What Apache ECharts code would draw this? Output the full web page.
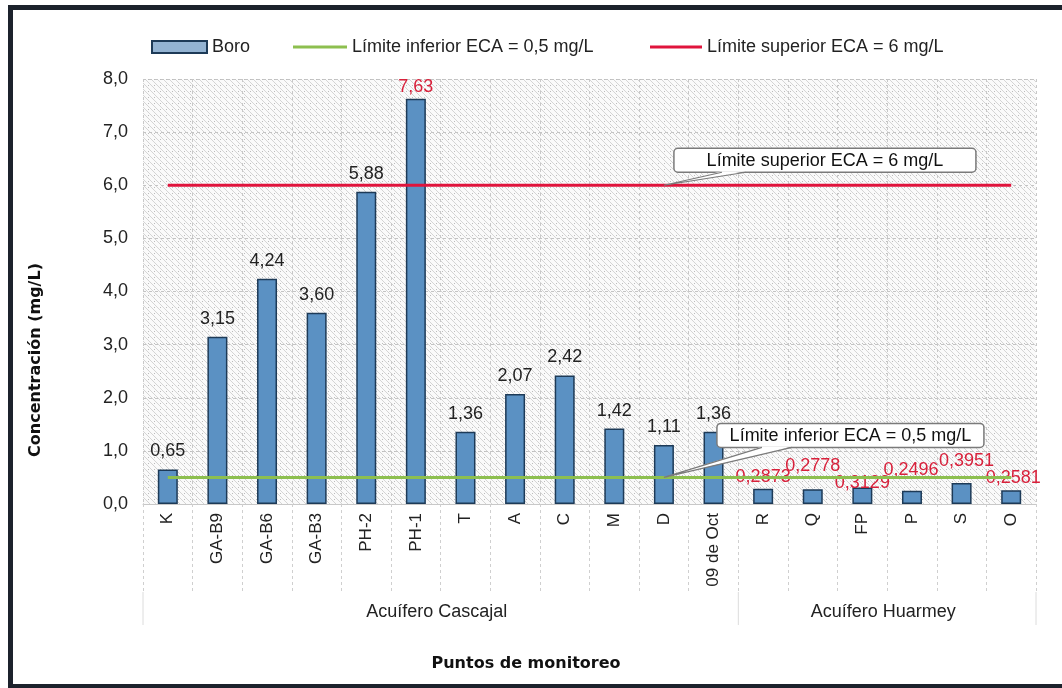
<!DOCTYPE html>
<html>
<head>
<meta charset="utf-8">
<title>Boro</title>
<script src="https://cdn.jsdelivr.net/npm/echarts@6/dist/echarts.min.js"></script>
<style>
html, body { margin: 0; padding: 0; background: #fff; }
#chart { width: 1062px; height: 688px; }
</style>
</head>
<body>
<div id="chart"></div>
<script>
// datos
var puntos = ['K', 'GA-B9', 'GA-B6', 'GA-B3', 'PH-2', 'PH-1', 'T', 'A', 'C', 'M', 'D', '09 de Oct', 'R', 'Q', 'FP', 'P', 'S', 'O'];
var boro = [0.65, 3.15, 4.24, 3.60, 5.88, 7.63, 1.36, 2.07, 2.42, 1.42, 1.11, 1.36, 0.2873, 0.2778, 0.3129, 0.2496, 0.3951, 0.2581];
var limiteInferior = 0.5;
var limiteSuperior = 6;
var acuiferos = ['Acuífero Cascajal', 'Acuífero Huarmey'];
var acuiferoDesde = [0, 12]; // primer punto de cada acuifero
var yTicks = [0, 1, 2, 3, 4, 5, 6, 7, 8];

var nombreBoro = 'Boro';
var nombreInf = 'Límite inferior ECA = 0,5 mg/L';
var nombreSup = 'Límite superior ECA = 6 mg/L';

var fuente = '"Liberation Sans", Arial, sans-serif';
var negrita = '"DejaVu Sans", sans-serif';
var rojo = '#d8213b';

// fondo rayado del area de trazado
function rayado() {
  var c = document.createElement('canvas');
  c.width = 6; c.height = 6;
  var g = c.getContext('2d');
  g.fillStyle = '#fafafa';
  g.fillRect(0, 0, 6, 6);
  g.strokeStyle = '#d4d4d4';
  g.lineWidth = 1;
  g.beginPath(); g.moveTo(0, 0); g.lineTo(6, 6); g.stroke();
  g.beginPath(); g.moveTo(-1, 5); g.lineTo(1, 7); g.stroke();
  g.beginPath(); g.moveTo(5, -1); g.lineTo(7, 1); g.stroke();
  g.fillStyle = '#bcbcbc';
  g.fillRect(4, 1, 1, 1);
  return c;
}

// desplazamiento de etiquetas rojas (solo estilo)
var desfase = { 13: [0, -11], 14: [0, 8], 15: [-1, -9], 16: [5, -10], 17: [2, 0] };

var datosBoro = boro.map(function (v, i) {
  var item = { value: v };
  if (i >= acuiferoDesde[1] || v > 7) {
    item.label = { color: rojo, distance: 3, offset: desfase[i] || [0, 0] };
  }
  return item;
});

var chart = echarts.init(document.getElementById('chart'));

var textoLeyenda = { fontSize: 18, color: '#222', fontFamily: fuente };

var option = {
  backgroundColor: '#fff',
  animation: false,
  textStyle: { fontFamily: fuente },
  grid: {
    left: 143, right: 26, top: 79, bottom: 184,
    show: true,
    borderWidth: 0,
    backgroundColor: { image: rayado(), repeat: 'repeat' }
  },
  legend: [
    { data: [{ name: nombreBoro, icon: 'rect',
        itemStyle: { color: '#93b3d2', borderColor: '#1d3a57', borderWidth: 2 } }],
      left: 146, top: 33, itemWidth: 55, itemHeight: 12, itemGap: 5, textStyle: textoLeyenda },
    { data: [{ name: nombreInf, icon: 'rect' }],
      left: 288, top: 33, itemWidth: 54, itemHeight: 3, textStyle: textoLeyenda },
    { data: [{ name: nombreSup, icon: 'rect' }],
      left: 645, top: 33, itemWidth: 52, itemHeight: 3, textStyle: textoLeyenda }
  ],
  xAxis: {
    type: 'category',
    data: puntos,
    axisLine: { show: true, lineStyle: { color: '#c8c8c8' } },
    axisTick: { show: true, interval: 0, length: 88, lineStyle: { color: '#cfcfcf', type: [3, 3] } },
    splitLine: { show: true, interval: 0, lineStyle: { color: '#c8c8c8', type: [3, 3] } },
    axisLabel: { interval: 0, rotate: 90, margin: 9, fontSize: 17, color: '#222', fontFamily: fuente }
  },
  yAxis: {
    type: 'value',
    min: yTicks[0],
    max: yTicks[yTicks.length - 1],
    interval: 1,
    axisLine: { show: false },
    axisTick: { show: false },
    splitLine: { show: true, lineStyle: { color: '#c4c4c4', type: [3, 3] } },
    axisLabel: {
      margin: 15, fontSize: 18, color: '#222', fontFamily: fuente,
      formatter: function (v) { return v.toFixed(1).replace('.', ','); }
    }
  },
  series: [
    {
      name: nombreBoro,
      type: 'bar',
      barWidth: 20,
      data: datosBoro,
      itemStyle: { color: '#5b91c3', borderColor: '#1d3a57', borderWidth: 1.5 },
      label: {
        show: true, position: 'top', distance: 9,
        fontSize: 18, color: '#222', fontFamily: fuente,
        formatter: function (p) {
          var d = p.dataIndex >= acuiferoDesde[1] ? 4 : 2;
          return p.value.toFixed(d).replace('.', ',');
        }
      }
    },
    {
      name: nombreInf,
      type: 'line',
      symbol: 'none',
      data: [[puntos[0], limiteInferior], [puntos[puntos.length - 1], limiteInferior]],
      itemStyle: { color: '#8dbf4f' },
      lineStyle: { color: '#8dbf4f', width: 3 }
    },
    {
      name: nombreSup,
      type: 'line',
      symbol: 'none',
      data: [[puntos[0], limiteSuperior], [puntos[puntos.length - 1], limiteSuperior]],
      itemStyle: { color: '#e0143c' },
      lineStyle: { color: '#e0143c', width: 3 }
    }
  ]
};

chart.setOption(option);

// anotaciones, ejes y marco
function px(cat, v) { return chart.convertToPixel({ gridIndex: 0 }, [cat, v]); }

function globo(texto, ancla, dx, dy, w, h, t1, t2) {
  var x0 = ancla[0] + dx, y0 = ancla[1] + dy;
  return [
    { type: 'rect', shape: { x: x0, y: y0, width: w, height: h, r: 4 },
      style: { fill: '#fff', stroke: '#7a7a7a', lineWidth: 1.5 }, z: 20 },
    { type: 'polygon', shape: { points: [ancla, [x0 + t1, y0 + h - 1], [x0 + t2, y0 + h - 1]] },
      style: { fill: '#fff' }, z: 21 },
    { type: 'polyline', shape: { points: [[x0 + t1, y0 + h], ancla, [x0 + t2, y0 + h]] },
      style: { stroke: '#7a7a7a', lineWidth: 1.2, fill: null }, z: 21 },
    { type: 'text', x: x0 + w / 2, y: y0 + h / 2 + 1, z: 22,
      style: { text: texto, fontSize: 18, fontFamily: fuente, fill: '#111', align: 'center', verticalAlign: 'middle' } }
  ];
}

var elementos = [];
var aSup = px('D', limiteSuperior);
var aInf = px('D', limiteInferior);
elementos = elementos.concat(globo(nombreSup, aSup, 10, -37, 302, 24, 48, 72));
elementos = elementos.concat(globo(nombreInf, aInf, 53, -54, 267, 24, 45, 75));

// limites de los acuiferos debajo de las etiquetas
var paso = px(puntos[1], 0)[0] - px(puntos[0], 0)[0];
var bordes = acuiferoDesde.concat([puntos.length]).map(function (i) {
  return px(puntos[0], 0)[0] - paso / 2 + i * paso;
});
bordes.forEach(function (x) {
  elementos.push({ type: 'line', shape: { x1: x, y1: 592, x2: x, y2: 625 },
    style: { stroke: '#dcdcdc', lineWidth: 1 } });
});
acuiferos.forEach(function (nombre, i) {
  elementos.push({ type: 'text', x: (bordes[i] + bordes[i + 1]) / 2 - 4, y: 612,
    style: { text: nombre, fontSize: 18, fontFamily: fuente, fill: '#222', align: 'center', verticalAlign: 'middle' } });
});

elementos.push({ type: 'text', x: 526, y: 664,
  style: { text: 'Puntos de monitoreo', fontSize: 16, fontWeight: 'bold', fontFamily: negrita,
    fill: '#111', align: 'center', verticalAlign: 'middle' } });
elementos.push({ type: 'text', x: 36, y: 360, rotation: Math.PI / 2,
  style: { text: 'Concentración (mg/L)', fontSize: 16, fontWeight: 'bold', fontFamily: negrita,
    fill: '#111', align: 'center', verticalAlign: 'middle' } });

// marco oscuro
elementos.push({ type: 'rect', shape: { x: 8, y: 5, width: 5, height: 683 }, style: { fill: '#1c222c' } });
elementos.push({ type: 'rect', shape: { x: 8, y: 5, width: 1054, height: 5 }, style: { fill: '#1c222c' } });
elementos.push({ type: 'rect', shape: { x: 8, y: 684, width: 1054, height: 4 }, style: { fill: '#1c222c' } });

chart.setOption({ graphic: { elements: elementos } });
</script>
</body>
</html>
